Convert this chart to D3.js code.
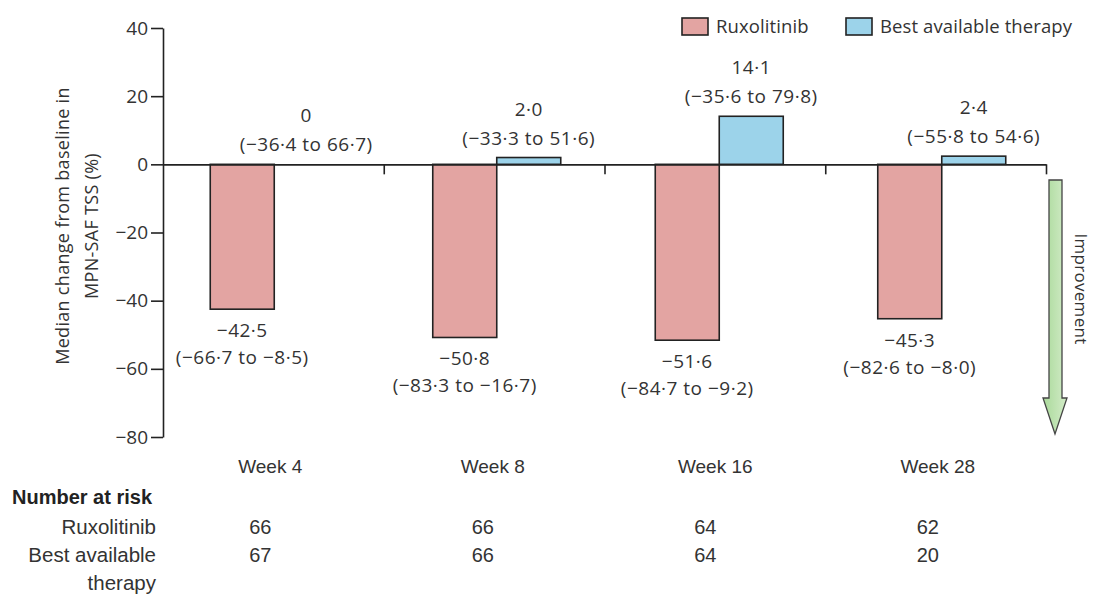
<!DOCTYPE html>
<html><head><meta charset="utf-8">
<script src="https://cdn.jsdelivr.net/npm/d3@7/dist/d3.min.js"></script>
<style>
body{margin:0;background:#fff;}
svg{display:block;}
.lbl{font-family:"Open Sans",sans-serif;font-size:19px;fill:#333;letter-spacing:0.5px;}
.cond{font-family:"Liberation Sans",sans-serif;fill:#333;}
</style></head><body>
<svg id="c" width="1093" height="594"></svg>
<script>
const weeks = ["Week 4", "Week 8", "Week 16", "Week 28"];
const series = ["Ruxolitinib", "Best available therapy"];
const ruxMedian = [-42.5, -50.8, -51.6, -45.3];
const ruxLow = [-66.7, -83.3, -84.7, -82.6];
const ruxHigh = [-8.5, -16.7, -9.2, -8.0];
const batMedian = [0, 2.0, 14.1, 2.4];
const batLow = [-36.4, -33.3, -35.6, -55.8];
const batHigh = [66.7, 51.6, 79.8, 54.6];
const atRiskRux = [66, 66, 64, 62];
const atRiskBat = [67, 66, 64, 20];
const yTicks = [40, 20, 0, -20, -40, -60, -80];
const colors = ["#e3a4a2", "#9cd3ea"];

const svg = d3.select("#c");
const fmt = v => (v === 0 ? "0" : v.toFixed(1)).replace(".", "\u00b7").replace("-", "\u2212");

const y = d3.scaleLinear().domain([-80, 40]).range([437, 28]);
const x = d3.scaleBand().domain(weeks).range([163, 1053]).padding(0);
const x1 = d3.scaleBand().domain(series).range([-64, 64]).padding(0);
const xb = d3.scaleLinear().domain([0, weeks.length]).range([163, 1046]);

// y axis
const ya = svg.append("g").attr("transform", "translate(163,0)")
  .call(d3.axisLeft(y).tickValues(yTicks).tickSize(12).tickPadding(3).tickSizeOuter(0)
    .tickFormat(d => String(d).replace("-", "\u2212")));
ya.select(".domain").attr("stroke", "#222").attr("stroke-width", 1.6);
ya.selectAll(".tick line").attr("stroke", "#222").attr("stroke-width", 1.6);
ya.selectAll(".tick text").attr("class", "lbl").style("font-size", "19px").style("letter-spacing", "0px").attr("fill", "#333");

// bars
const data = [];
weeks.forEach((w, i) => {
  data.push({w, s: series[0], v: ruxMedian[i], lo: ruxLow[i], hi: ruxHigh[i], c: colors[0]});
  data.push({w, s: series[1], v: batMedian[i], lo: batLow[i], hi: batHigh[i], c: colors[1]});
});
svg.append("g").selectAll("rect").data(data.filter(d => d.v !== 0)).join("rect")
  .attr("x", d => x(d.w) + x.bandwidth() / 2 + x1(d.s))
  .attr("width", x1.bandwidth())
  .attr("y", d => y(Math.max(0, d.v)))
  .attr("height", d => Math.abs(y(d.v) - y(0)))
  .attr("fill", d => d.c).attr("stroke", "#222").attr("stroke-width", 1.6);

// x axis (zero line)
const xa = svg.append("g").attr("transform", `translate(0,${y(0)})`)
  .call(d3.axisBottom(xb).tickValues(d3.range(1, weeks.length + 1)).tickSize(10).tickSizeOuter(0).tickFormat(""));
xa.select(".domain").attr("stroke", "#222").attr("stroke-width", 1.6);
xa.selectAll(".tick line").attr("stroke", "#222").attr("stroke-width", 1.6);

// value labels
const lg = svg.append("g");
data.forEach(d => {
  const cx = x(d.w) + x.bandwidth() / 2 + x1(d.s) + x1.bandwidth() / 2;
  let b1, b2;
  if (d.v < 0) { b1 = y(d.v) + 28; b2 = y(d.v) + 55; }
  else { b2 = y(d.v) - 13; b1 = b2 - 29; }
  lg.append("text").attr("class", "lbl").attr("x", cx).attr("y", b1).attr("text-anchor", "middle").text(fmt(d.v));
  lg.append("text").attr("class", "lbl").attr("x", cx).attr("y", b2).attr("text-anchor", "middle")
    .text(`(${fmt(d.lo)} to ${fmt(d.hi)})`);
});

// y title
const yt = svg.append("text").attr("class", "lbl").style("font-size", "18px").style("letter-spacing", "0.3px")
  .attr("text-anchor", "middle").attr("transform", "translate(69,226) rotate(-90)");
yt.append("tspan").attr("x", 0).attr("y", 0).text("Median change from baseline in");
yt.append("tspan").attr("x", 0).attr("y", 29).text("MPN-SAF TSS (%)");

// legend
const leg = svg.append("g");
const legX = [682, 846];
series.forEach((s, i) => {
  leg.append("rect").attr("x", legX[i]).attr("y", 18).attr("width", 26).attr("height", 17)
    .attr("fill", colors[i]).attr("stroke", "#222").attr("stroke-width", 1.6);
  leg.append("text").attr("class", "lbl").style("font-size", "18.5px").style("letter-spacing", "0.1px")
    .attr("x", legX[i] + 34).attr("y", 33).text(s);
});

// improvement arrow
const grad = svg.append("defs").append("linearGradient").attr("id", "g").attr("x1", 0).attr("x2", 1);
grad.append("stop").attr("offset", 0).attr("stop-color", "#a9d99a");
grad.append("stop").attr("offset", 1).attr("stop-color", "#d3ecc8");
svg.append("path")
  .attr("d", "M1049,180 L1062,180 L1062,398 L1067,398 L1055,434 L1043,398 L1049,398 Z")
  .attr("fill", "url(#g)").attr("stroke", "#444").attr("stroke-width", 1.3);
svg.append("text").attr("class", "lbl").style("font-size", "17px").style("letter-spacing", "0.3px")
  .attr("text-anchor", "middle").attr("transform", "translate(1075,289) rotate(90)").text("Improvement");

// week labels and number at risk
weeks.forEach((w, i) => {
  const cx = x(w) + x.bandwidth() / 2;
  svg.append("text").attr("class", "cond").style("font-size", "19px").attr("text-anchor", "middle")
    .attr("x", cx - 4).attr("y", 473).text(w);
  svg.append("text").attr("class", "cond").style("font-size", "20px").attr("text-anchor", "middle")
    .attr("x", cx - 14).attr("y", 534).text(atRiskRux[i]);
  svg.append("text").attr("class", "cond").style("font-size", "20px").attr("text-anchor", "middle")
    .attr("x", cx - 14).attr("y", 562).text(atRiskBat[i]);
});
svg.append("text").attr("class", "cond").style("font-size", "20px").style("font-weight", "bold").style("fill", "#222")
  .attr("x", 12).attr("y", 504).text("Number at risk");
const rowLabels = [["Ruxolitinib", 534], ["Best available", 562], ["therapy", 590]];
rowLabels.forEach(([t, yy]) => {
  svg.append("text").attr("class", "cond").style("font-size", "20.5px").attr("text-anchor", "end")
    .attr("x", 156).attr("y", yy).text(t);
});
</script></body></html>
